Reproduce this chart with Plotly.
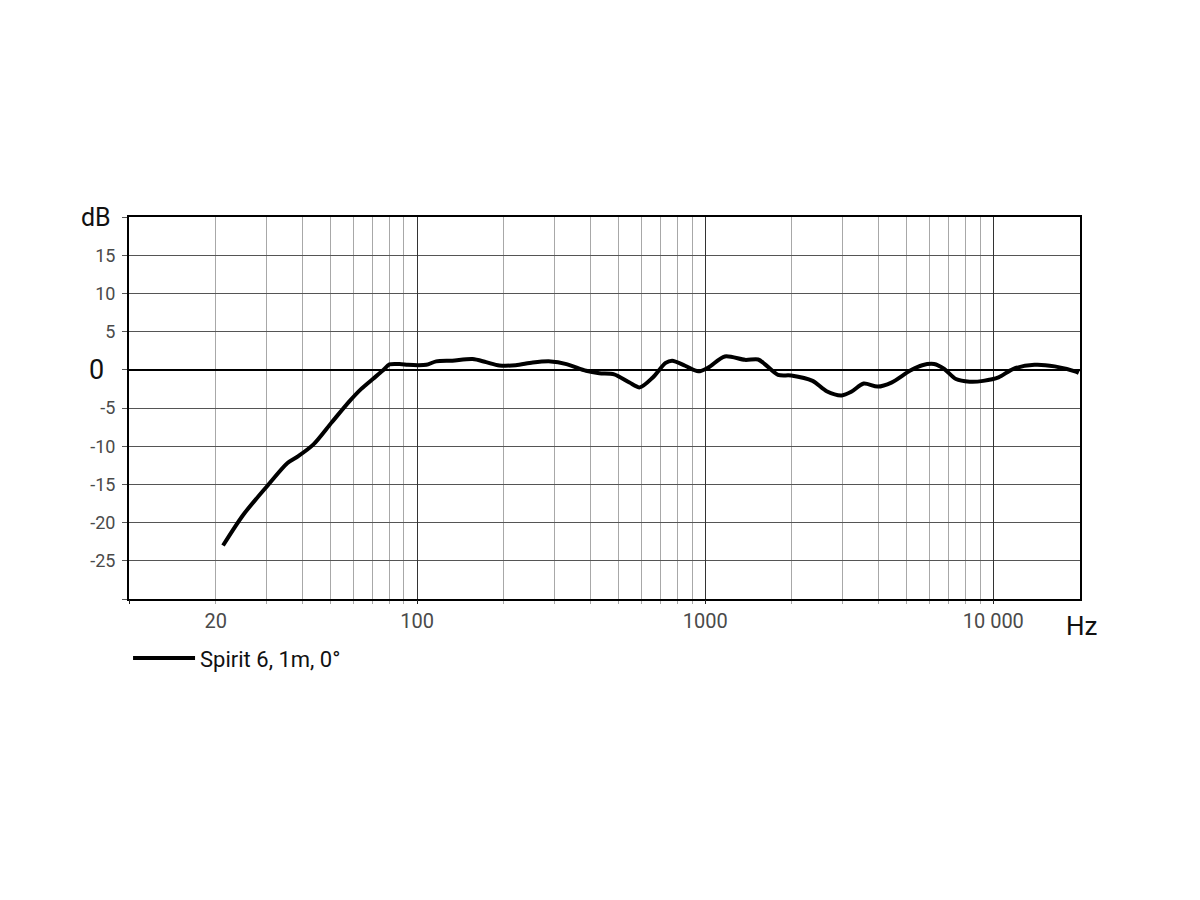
import plotly.graph_objects as go

# ---- data ----
freq_hz = [21.2, 24.9, 30.2, 35.5, 38.7, 43.6, 50.5, 58.3, 64.0, 70.2, 76.0, 80.2, 86.9, 93.0,
           100.6, 107.6, 116.5, 132.5, 155.8, 173.6, 193, 220, 252, 291, 330, 386, 429, 483,
           546, 593, 658, 729, 768, 852, 946, 1025, 1170, 1375, 1527, 1610, 1790, 1990,
           2360, 2640, 2980, 3225, 3550, 3970, 4430, 5150, 5670, 6230, 6760, 7420, 8280,
           9230, 10430, 11700, 13900, 16330, 19200, 19800]
level_db = [-23.0, -19.0, -15.2, -12.2, -11.3, -9.8, -6.9, -4.1, -2.5, -1.2, -0.1, 0.7, 0.75, 0.65,
            0.6, 0.65, 1.1, 1.2, 1.4, 1.0, 0.57, 0.6, 0.96, 1.1, 0.75, -0.13, -0.45, -0.6,
            -1.67, -2.3, -1.0, 0.9, 1.2, 0.53, -0.2, 0.3, 1.75, 1.3, 1.35, 0.75, -0.66, -0.75,
            -1.45, -2.8, -3.35, -2.85, -1.8, -2.2, -1.67, -0.1, 0.6, 0.75, 0.1, -1.2, -1.55,
            -1.45, -1.0, 0.1, 0.65, 0.45, -0.2, -0.4]
series_name = "Spirit 6, 1m, 0°"

x_tick_vals = [20, 100, 1000, 10000]
x_tick_text = ["20", "100", "1000", "10 000"]
x_major_grid = [10, 100, 1000, 10000]
x_minor_grid = [m * d for d in (10, 100, 1000) for m in range(2, 10)]
y_tick_vals = [-30, -25, -20, -15, -10, -5, 0, 5, 10, 15, 20]
y_tick_text = ["", "-25", "-20", "-15", "-10", "-5", "", "5", "10", "15", ""]

FONT = "Roboto"
LABEL_GRAY = "#4a4a4a"

fig = go.Figure()
fig.add_trace(go.Scatter(
    x=freq_hz, y=level_db, mode="lines", name=series_name,
    line=dict(color="black", width=4, shape="spline", smoothing=0.8),
    xaxis="x", yaxis="y",
))
# invisible helper trace to activate the overlay axis for major gridlines
fig.add_trace(go.Scatter(x=[10, 20000], y=[None, None], xaxis="x2", yaxis="y",
                         showlegend=False, hoverinfo="skip"))

fig.update_layout(
    width=1200, height=900,
    paper_bgcolor="white", plot_bgcolor="white",
    margin=dict(l=121, r=128, t=209, b=309),
    font=dict(family=FONT, size=17, color=LABEL_GRAY),
    xaxis=dict(
        type="log", range=[1, 4.301],
        tickvals=x_tick_vals, ticktext=x_tick_text,
        ticks="", showgrid=False,
        tickfont=dict(family=FONT, size=20, color=LABEL_GRAY),
        ticklabelstandoff=3,
        showline=True, linecolor="black", linewidth=2, mirror=True,
        minor=dict(tickvals=x_minor_grid, showgrid=True, gridcolor="#a8a8a8",
                   gridwidth=1, ticks="outside", ticklen=3, tickcolor="#a8a8a8"),
        zeroline=False,
    ),
    xaxis2=dict(
        type="log", range=[1, 4.301], overlaying="x", anchor="y", side="bottom",
        tickvals=x_major_grid, showticklabels=False,
        ticks="outside", ticklen=4, tickcolor="#222", tickwidth=1,
        showgrid=True, gridcolor="#333333", gridwidth=1, showline=False, zeroline=False,
    ),
    yaxis=dict(
        range=[-30, 20], tickvals=y_tick_vals, ticktext=y_tick_text,
        ticks="outside", ticklen=5, tickcolor="#555", tickwidth=1,
        tickfont=dict(family=FONT, size=18, color=LABEL_GRAY),
        ticklabelstandoff=3,
        showgrid=True, gridcolor="#555555", gridwidth=1,
        zeroline=True, zerolinecolor="black", zerolinewidth=1.5,
        showline=True, linecolor="black", linewidth=2, mirror=True,
    ),
    showlegend=True,
    legend=dict(
        x=-0.001, y=-0.1, xanchor="left", yanchor="top",
        font=dict(family=FONT, size=22, color="#111"),
        itemwidth=62, bgcolor="rgba(0,0,0,0)",
    ),
    annotations=[
        dict(text="dB", xref="paper", yref="y", x=-0.017, y=20, xanchor="right",
             yanchor="middle", showarrow=False, font=dict(family=FONT, size=25, color="#111")),
        dict(text="0", xref="paper", yref="y", x=-0.024, y=0, xanchor="right",
             yanchor="middle", showarrow=False, font=dict(family=FONT, size=27, color="#111")),
        dict(text="Hz", xref="paper", yref="paper", x=1.0, y=-0.026, xanchor="left",
             yanchor="top", xshift=-16, showarrow=False,
             font=dict(family=FONT, size=26, color="#111")),
    ],
)

fig.write_html("out.html")
